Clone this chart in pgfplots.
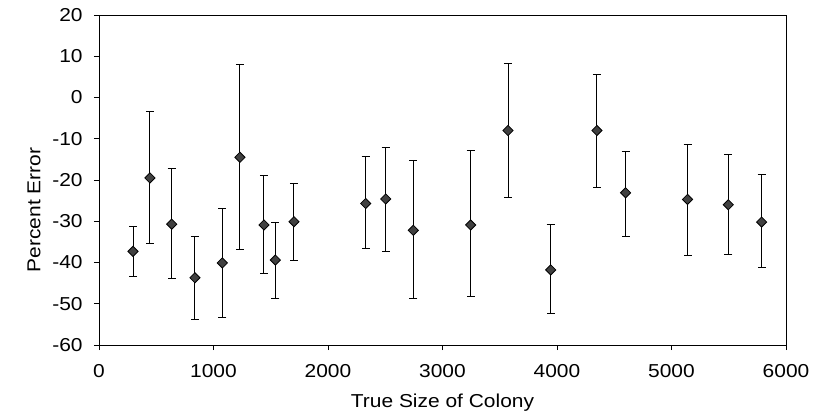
\documentclass[border=0pt]{standalone}
\usepackage{fontspec}
\setmainfont{Liberation Sans}[FakeStretch=1.12]
\usepackage{pgfplots}
\usepackage{pgfplotstable}
\pgfplotsset{compat=1.18}
\pgfplotstableread{
x y ep em
297 -37.3 6.1 6.2
445 -19.5 16.2 16.0
635 -30.7 13.6 13.1
838 -43.7 10.0 10.1
1077 -40.1 13.2 13.3
1231 -14.5 22.4 22.3
1441 -30.9 12.0 11.8
1540 -39.4 9.2 9.4
1703 -30.1 9.2 9.3
2329 -25.7 11.3 11.0
2504 -24.6 12.5 12.7
2745 -32.2 16.9 16.5
3246 -30.9 18.0 17.3
3572 -8.0 16.3 16.3
3945 -41.8 11.1 10.6
4349 -8.0 13.6 13.9
4599 -23.1 10.0 10.5
5140 -24.7 13.3 13.6
5496 -26.0 12.1 12.0
5787 -30.2 11.5 11.0
}\datatable
\begin{document}
\fontsize{18.7bp}{22bp}\selectfont
\begin{tikzpicture}
\begin{axis}[
  at={(99bp,67bp)}, anchor=south west,
  scale only axis, width=687bp, height=330bp,
  xmin=0, xmax=6000, ymin=-60, ymax=20,
  xtick={0,1000,...,6000}, ytick={-60,-50,...,20},
  tick pos=left, tick align=outside, major tick length=5bp,
  tick style={black, line width=0.8pt},
  axis line style={black, line width=0.9pt},
  /pgf/number format/assume math mode=true,
  /pgf/number format/1000 sep={},
  ticklabel style={font=\fontsize{18.7bp}{22bp}\selectfont},
  xticklabel style={yshift=-8bp},
  yticklabel style={xshift=-5bp},
  xlabel={True Size of Colony},
  ylabel={Percent Error},
  label style={font=\fontsize{18.7bp}{22bp}\selectfont},
  x label style={at={(axis description cs:0.5,-0.176)}, anchor=center},
  y label style={at={(axis description cs:-0.0946,0.409)}, anchor=center, rotate=0},
  clip=false,
]
\addplot[only marks, mark=square*, mark size=3.6bp,
  mark options={rotate=45, fill=black!75, draw=black, line width=0.8pt},
  error bars/.cd, y dir=both, y explicit,
  error bar style={black, line width=1pt},
  error mark options={black, rotate=90, mark size=4bp, line width=1pt}]
  table[x=x, y=y, y error plus=ep, y error minus=em] {\datatable};
\end{axis}
\pgfresetboundingbox
\useasboundingbox (0,0) rectangle (823bp,412bp);
\end{tikzpicture}
\end{document}
